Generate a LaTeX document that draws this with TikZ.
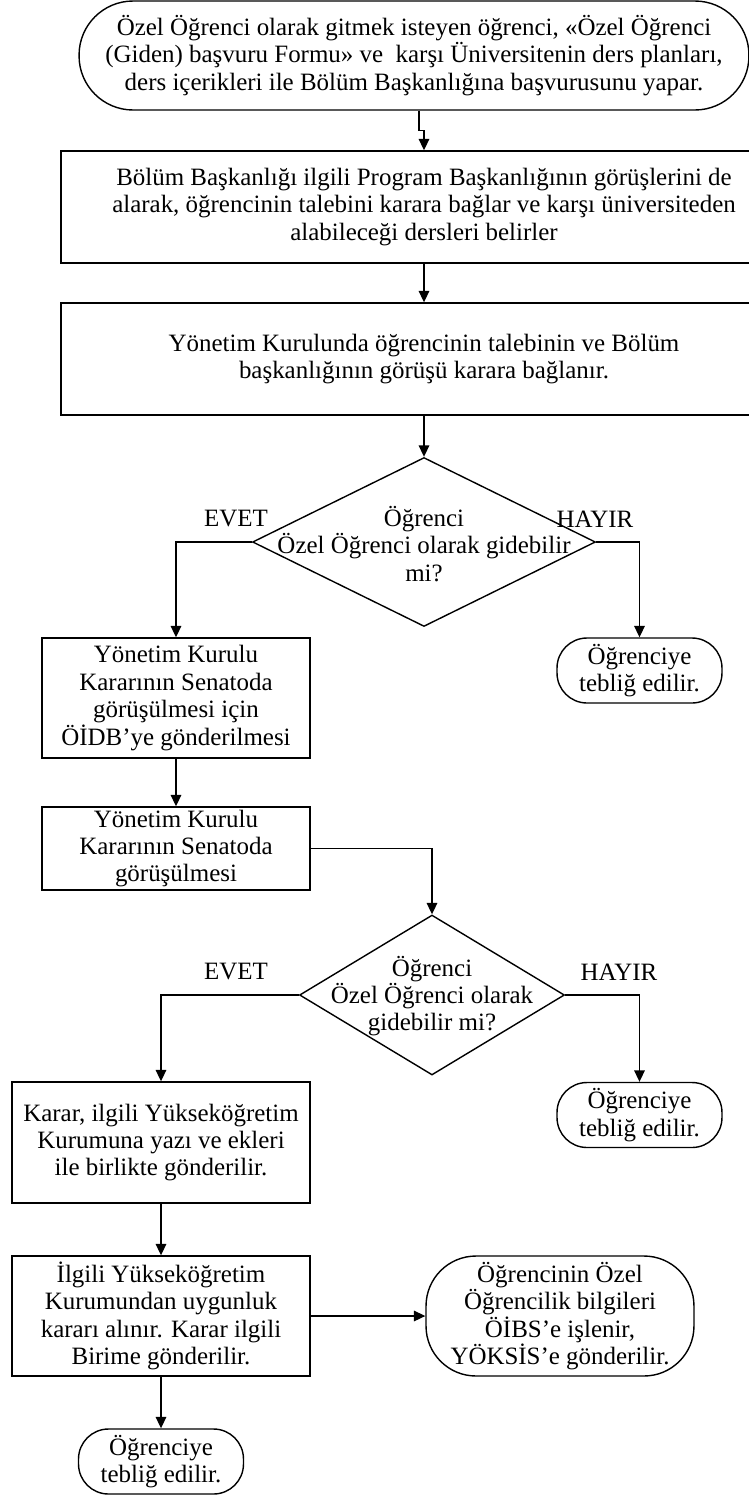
\documentclass[tikz,border=0pt]{standalone}
\usepackage{fontspec}
\setmainfont{Liberation Serif}
\usetikzlibrary{arrows.meta, shapes.geometric}

\begin{document}
\begin{tikzpicture}[x=0.02cm, y=-0.02cm,
        box/.style={draw, line width=0.8pt, align=center, inner sep=0pt,
                    font=\fontsize{14.2}{15.6}\selectfont},
        term/.style={box, rounded corners=0.6cm, minimum width=3.3cm, minimum height=1.3cm},
        dia/.style={draw, diamond, line width=0.8pt, inner sep=0pt},
        txt/.style={align=center, inner sep=0pt, font=\fontsize{14.2}{15.6}\selectfont},
        lbl/.style={inner sep=0pt, font=\fontsize{14.2}{15.6}\selectfont},
        arr/.style={-{Triangle[length=6.5pt, width=6pt]}, line width=0.8pt}
      ]
      \clip (0,0) rectangle (749,1495);
      \node[box, rounded corners=1.08cm, minimum width=13.4cm, minimum height=2.18cm] (start) at (414,55.5)
        {Özel Öğrenci olarak gitmek isteyen öğrenci, «Özel Öğrenci\\ (Giden) başvuru Formu» ve~ karşı Üniversitenin ders planları,\\ ders içerikleri ile Bölüm Başkanlığına başvurusunu yapar.};
      \node[box, minimum width=14.52cm, minimum height=2.24cm] (bolum) at (424,207)
        {Bölüm Başkanlığı ilgili Program Başkanlığının görüşlerini de\\ alarak, öğrencinin talebini karara bağlar ve karşı üniversiteden\\ alabileceği dersleri belirler};
      \node[box, minimum width=14.52cm, minimum height=2.24cm] (yk) at (424,359)
        {Yönetim Kurulunda öğrencinin talebinin ve Bölüm\\ başkanlığının görüşü karara bağlanır.};
      \node[dia, minimum width=6.86cm, minimum height=3.38cm] (q1) at (424,542) {};
      \node[txt] (q1txt) at (424,544) {Öğrenci\\ Özel Öğrenci olarak gidebilir\\ mi?};
      \node[lbl] (evet1) at (236,519) {EVET};
      \node[lbl] (hayir1) at (595,519) {HAYIR};
      \node[box, minimum width=5.36cm, minimum height=2.4cm] (oidb) at (176,698)
        {Yönetim Kurulu\\ Kararının Senatoda\\ görüşülmesi için\\ ÖİDB’ye gönderilmesi};
      \node[term] (red1) at (639.5,670.5) {Öğrenciye\\ tebliğ edilir.};
      \node[box, minimum width=5.36cm, minimum height=1.66cm] (senato) at (176,848.5)
        {Yönetim Kurulu\\ Kararının Senatoda\\ görüşülmesi};
      \node[dia, minimum width=5.3cm, minimum height=3.2cm] (q2) at (432,995) {};
      \node[txt] (q2txt) at (432,996) {Öğrenci\\ Özel Öğrenci olarak\\ gidebilir mi?};
      \node[lbl] (evet2) at (236,972) {EVET};
      \node[lbl] (hayir2) at (619,972) {HAYIR};
      \node[box, minimum width=5.96cm, minimum height=2.42cm] (yazi) at (161,1142.5)
        {Karar, ilgili Yükseköğretim\\ Kurumuna yazı ve ekleri\\ ile birlikte gönderilir.};
      \node[term] (red2) at (639.5,1115) {Öğrenciye\\ tebliğ edilir.};
      \node[box, minimum width=5.96cm, minimum height=2.4cm] (uygun) at (161,1316)
        {İlgili Yükseköğretim\\ Kurumundan uygunluk\\ kararı alınır. Karar ilgili\\ Birime gönderilir.};
      \node[box, rounded corners=1cm, minimum width=5.36cm, minimum height=2.4cm] (oibs) at (560,1316)
        {Öğrencinin Özel\\ Öğrencilik bilgileri\\ ÖİBS’e işlenir,\\ YÖKSİS’e gönderilir.};
      \node[term] (son) at (161,1461.5) {Öğrenciye\\ tebliğ edilir.};
      \draw[arr] ([xshift=0.1cm]start.south) -- ++(0,20) -| (bolum.north);
      \draw[arr] (bolum) -- (yk);
      \draw[arr] (yk) -- (q1);
      \draw[arr] (q1.west) -| (oidb.north);
      \draw[arr] (q1.east) -| (red1.north);
      \draw[arr] (oidb) -- (senato);
      \draw[arr] (senato.east) -| (q2.north);
      \draw[arr] (q2.west) -| (yazi.north);
      \draw[arr] (q2.east) -| (red2.north);
      \draw[arr] (yazi) -- (uygun);
      \draw[arr] (uygun) -- (oibs);
      \draw[arr] (uygun) -- (son);
    \end{tikzpicture}
\end{document}
